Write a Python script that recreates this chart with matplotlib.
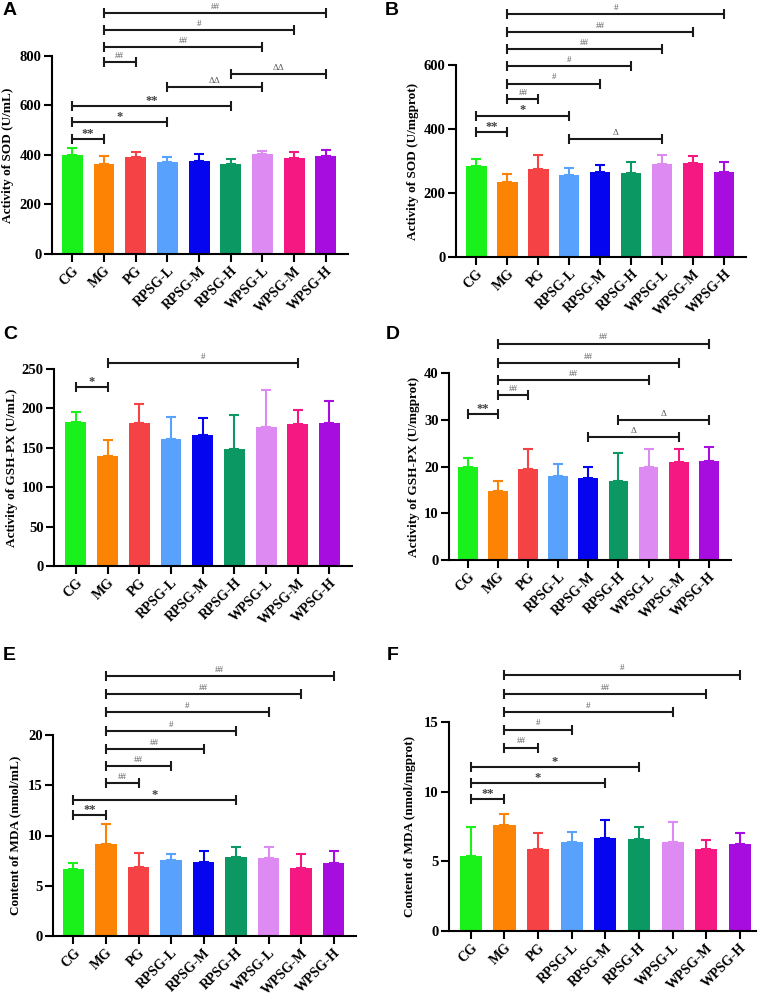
import matplotlib.pyplot as plt

plt.rcParams["font.family"] = "serif"
plt.rcParams["font.serif"] = ["Liberation Serif", "DejaVu Serif"]
plt.rcParams["font.weight"] = "bold"
plt.rcParams["axes.labelweight"] = "bold"

FIG_W, FIG_H = 766, 998

groups = ["CG", "MG", "PG", "RPSG-L", "RPSG-M", "RPSG-H", "WPSG-L", "WPSG-M", "WPSG-H"]
colors = ["#1AF01A", "#FD8305", "#F54245", "#58A2FE", "#0505F0",
          "#0C9862", "#DD8AF3", "#F51882", "#A80DE0"]

# A: SOD serum (U/mL)
sod_ml = [400, 362, 392, 370, 377, 362, 403, 388, 396]
sod_ml_sd = [30, 35, 19, 22, 28, 22, 15, 24, 23]
sig_sod_ml = [(1, 8, 975, "##"), (1, 7, 905, "#"), (1, 6, 835, "##"), (1, 2, 775, "##"),
              (5, 8, 726, "ΔΔ"), (3, 6, 673, "ΔΔ"), (0, 5, 598, "**"), (0, 3, 533, "*"),
              (0, 1, 463, "**")]

# B: SOD tissue (U/mgprot)
sod_mg = [284, 235, 275, 255, 267, 263, 291, 293, 267]
sod_mg_sd = [21, 24, 45, 22, 20, 33, 28, 22, 30]
sig_sod_mg = [(1, 8, 758, "#"), (1, 7, 703, "##"), (1, 6, 649, "##"), (1, 5, 596, "#"),
              (1, 4, 542, "#"), (1, 2, 493, "##"), (0, 3, 442, "*"), (0, 1, 391, "**"),
              (3, 6, 368, "Δ")]

# C: GSH-PX serum (U/mL)
gsh_ml = [183, 140, 181, 161, 166, 148, 176, 180, 182]
gsh_ml_sd = [13, 20.5, 25, 28, 22, 43, 47, 18, 27]
sig_gsh_ml = [(1, 7, 258, "#"), (0, 1, 227, "*")]

# D: GSH-PX tissue (U/mgprot)
gsh_mg = [20.0, 14.7, 19.4, 18.0, 17.5, 17.0, 19.9, 20.9, 21.1]
gsh_mg_sd = [1.8, 2.1, 4.3, 2.6, 2.3, 5.8, 3.8, 2.9, 3.0]
sig_gsh_mg = [(1, 8, 46.3, "##"), (1, 7, 42.1, "##"), (1, 6, 38.5, "##"), (1, 2, 35.2, "##"),
              (0, 1, 31.3, "**"), (5, 8, 30.0, "Δ"), (4, 7, 26.3, "Δ")]

# E: MDA serum (nmol/mL)
mda_ml = [6.63, 9.13, 6.9, 7.53, 7.4, 7.87, 7.77, 6.77, 7.23]
mda_ml_sd = [0.67, 2.0, 1.4, 0.64, 1.07, 1.0, 1.13, 1.4, 1.2]
sig_mda_ml = [(1, 8, 25.9, "##"), (1, 7, 24.1, "##"), (1, 6, 22.25, "#"), (1, 5, 20.4, "#"),
              (1, 4, 18.64, "##"), (1, 3, 16.9, "##"), (1, 2, 15.2, "##"), (0, 5, 13.5, "*"),
              (0, 1, 12.0, "**")]

# F: MDA tissue (nmol/mgprot)
mda_mg = [5.39, 7.61, 5.92, 6.4, 6.71, 6.61, 6.37, 5.85, 6.25]
mda_mg_sd = [2.08, 0.81, 1.12, 0.71, 1.24, 0.88, 1.46, 0.67, 0.81]
sig_mda_mg = [(1, 8, 18.4, "#"), (1, 7, 17.0, "##"), (1, 6, 15.74, "#"), (1, 3, 14.45, "#"),
              (1, 2, 13.16, "##"), (0, 5, 11.8, "*"), (0, 4, 10.65, "*"), (0, 1, 9.45, "**")]

# layout in pixels: (left, right, top, bottom) of the axes, x limits, ylabel offset, letter pos
panels = [
    dict(letter="A", mean=sod_ml, sd=sod_ml_sd, sig=sig_sod_ml,
         ylabel="Activity of SOD (U/mL)", yticks=[0, 200, 400, 600, 800],
         box=(52, 348, 56, 254), xlim=(-0.64, 8.70), lab_off=44, let=(3, 2)),
    dict(letter="B", mean=sod_mg, sd=sod_mg_sd, sig=sig_sod_mg,
         ylabel="Activity of SOD (U/mgprot)", yticks=[0, 200, 400, 600],
         box=(456, 746, 65, 257), xlim=(-0.66, 8.71), lab_off=43, let=(385, 2)),
    dict(letter="C", mean=gsh_ml, sd=gsh_ml_sd, sig=sig_gsh_ml,
         ylabel="Activity of GSH-PX (U/mL)", yticks=[0, 50, 100, 150, 200, 250],
         box=(54, 352, 369, 566), xlim=(-0.69, 8.71), lab_off=42, let=(3, 326)),
    dict(letter="D", mean=gsh_mg, sd=gsh_mg_sd, sig=sig_gsh_mg,
         ylabel="Activity of GSH-PX (U/mgprot)", yticks=[0, 10, 20, 30, 40],
         box=(449, 731, 373, 560), xlim=(-0.63, 8.74), lab_off=35, let=(386, 326)),
    dict(letter="E", mean=mda_ml, sd=mda_ml_sd, sig=sig_mda_ml,
         ylabel="Content of MDA (nmol/mL)", yticks=[0, 5, 10, 15, 20],
         box=(53, 356, 735, 936), xlim=(-0.63, 8.69), lab_off=38, let=(3, 647)),
    dict(letter="F", mean=mda_mg, sd=mda_mg_sd, sig=sig_mda_mg,
         ylabel="Content of MDA (nmol/mgprot)", yticks=[0, 5, 10, 15],
         box=(449, 756, 722, 931), xlim=(-0.65, 8.48), lab_off=39, let=(387, 647)),
]

fig = plt.figure(figsize=(FIG_W / 100, FIG_H / 100), dpi=100)

for p in panels:
    l, r, t, b = p["box"]
    ax = fig.add_axes([l / FIG_W, 1 - b / FIG_H, (r - l) / FIG_W, (b - t) / FIG_H])
    xs = list(range(len(groups)))
    ax.bar(xs, p["mean"], width=0.66, color=colors, zorder=2)
    for i in xs:
        ax.errorbar(i, p["mean"][i], yerr=[[0], [p["sd"][i]]], fmt="none",
                    ecolor=colors[i], elinewidth=1.5, capsize=3.8, capthick=1.5, zorder=3)

    ax.set_xlim(*p["xlim"])
    ax.set_ylim(0, p["yticks"][-1])
    ax.set_yticks(p["yticks"])
    ax.set_xticks(xs)
    ax.set_xticklabels(groups, rotation=45, ha="right", va="top", rotation_mode="anchor")
    ax.tick_params(axis="both", width=1.5, length=5.5, pad=2)
    ax.tick_params(axis="y", labelsize=10.5)
    ax.tick_params(axis="x", labelsize=10, pad=2)
    for s in ["top", "right"]:
        ax.spines[s].set_visible(False)
    for s in ["left", "bottom"]:
        ax.spines[s].set_linewidth(1.5)

    ax.set_ylabel(p["ylabel"], fontsize=9.5, va="center")
    ax.yaxis.set_label_coords(-p["lab_off"] / (r - l), 0.5)

    for i, j, y, lab in p["sig"]:
        ax.plot([i, j], [y, y], color="#1a1a1a", lw=1.5, solid_capstyle="butt",
                clip_on=False, zorder=4)
        ax.plot([i, j], [y, y], ls="none", marker="|", ms=6.5, mew=1.5,
                color="#1a1a1a", clip_on=False, zorder=4)
        star = "*" in lab
        ax.annotate(lab, xy=((i + j) / 2, y), xytext=(0, 1.5 if star else 3),
                    textcoords="offset points", ha="center", va="baseline",
                    fontsize=9 if star else 6.5,
                    color="#404040" if star else "#606060",
                    fontweight="bold" if star else "normal",
                    annotation_clip=False)

    fig.text(p["let"][0] / FIG_W, 1 - p["let"][1] / FIG_H, p["letter"],
             family="Liberation Sans", weight="bold", fontsize=14, ha="left", va="top")

fig.savefig("out.png", dpi=100)
